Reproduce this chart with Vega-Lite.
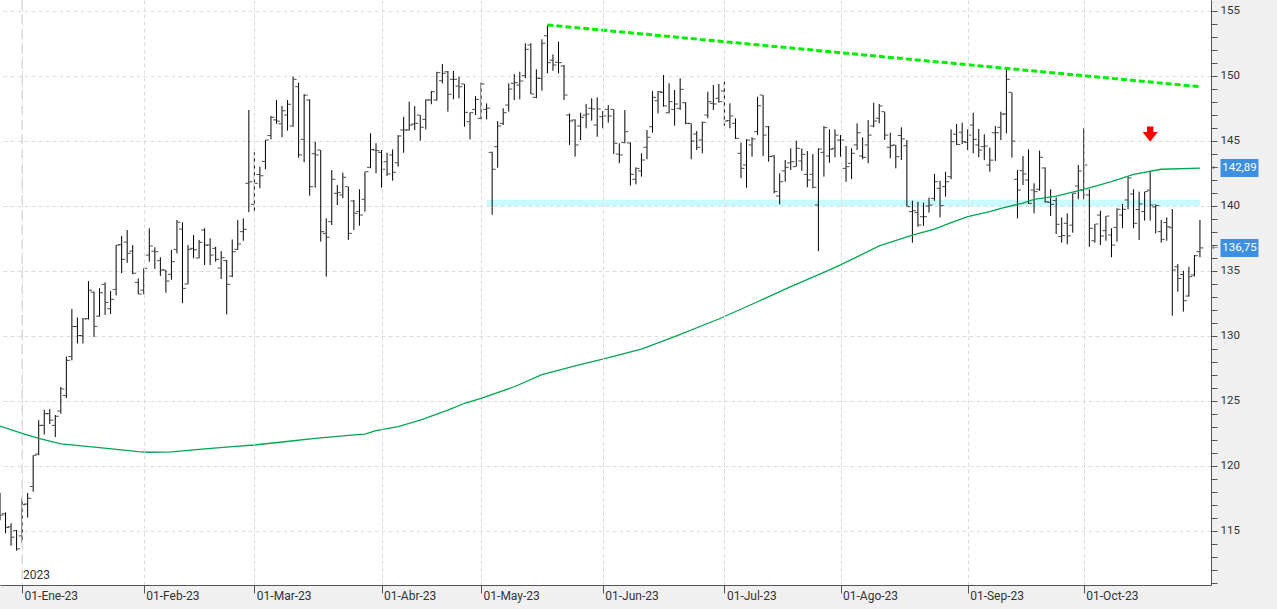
{
"$schema":"https://vega.github.io/schema/vega-lite/v6.json",
"width":1211,"height":585,
"autosize":{"type":"none"},
"padding":{"left":0,"top":0,"right":66,"bottom":24},
"background":"#f0f0f0",
"config":{"view":{"stroke":null,"fill":"white"}},
"datasets":{
"px":[
{"d":"2022-12-27","o":117.5,"h":117.9,"l":115.8,"c":116.2,"ma":123.05},
{"d":"2022-12-28","o":116.3,"h":116.4,"l":114.8,"c":115.25},
{"d":"2022-12-29","o":115.3,"h":115.57,"l":113.84,"c":114.5},
{"d":"2022-12-30","o":115.0,"h":115.05,"l":113.46,"c":113.6},
{"d":"2023-01-02","o":114.6,"h":117.5,"l":114.1,"c":117.0,"ma":122.49},
{"d":"2023-01-03","o":117.05,"h":117.9,"l":116.0,"c":117.49},
{"d":"2023-01-04","o":118.4,"h":120.8,"l":118.0,"c":120.8},
{"d":"2023-01-05","o":120.9,"h":123.5,"l":120.8,"c":123.1,"ma":122.1},
{"d":"2023-01-06","o":123.1,"h":124.3,"l":122.4,"c":124.0},
{"d":"2023-01-09","o":124.0,"h":124.35,"l":123.2,"c":123.5},
{"d":"2023-01-10","o":123.1,"h":123.9,"l":122.2,"c":123.8},
{"d":"2023-01-11","o":124.2,"h":126.05,"l":124.0,"c":125.9,"ma":121.67},
{"d":"2023-01-12","o":125.4,"h":128.4,"l":125.2,"c":128.1},
{"d":"2023-01-13","o":128.4,"h":132.05,"l":128.1,"c":130.7},
{"d":"2023-01-16","o":130.7,"h":131.4,"l":129.4,"c":130.0},
{"d":"2023-01-17","o":130.0,"h":131.35,"l":129.4,"c":131.3},
{"d":"2023-01-18","o":131.3,"h":134.2,"l":131.25,"c":133.5},
{"d":"2023-01-19","o":133.35,"h":133.4,"l":129.9,"c":130.72},
{"d":"2023-01-20","o":131.5,"h":133.65,"l":131.46,"c":133.3,"ma":121.38},
{"d":"2023-01-23","o":133.95,"h":134.1,"l":131.6,"c":132.56},
{"d":"2023-01-24","o":132.07,"h":133.43,"l":131.67,"c":132.8},
{"d":"2023-01-25","o":133.56,"h":136.97,"l":133.1,"c":136.97},
{"d":"2023-01-26","o":137.0,"h":137.67,"l":134.8,"c":135.87},
{"d":"2023-01-27","o":137.2,"h":138.13,"l":135.6,"c":136.33},
{"d":"2023-01-30","o":136.5,"h":136.97,"l":134.72,"c":134.8},
{"d":"2023-01-31","o":134.1,"h":134.4,"l":133.18,"c":133.2,"ma":121.08},
{"d":"2023-02-01","o":133.5,"h":135.18,"l":133.18,"c":135.18},
{"d":"2023-02-02","o":136.2,"h":138.26,"l":135.69,"c":136.9,"ma":121.03},
{"d":"2023-02-03","o":136.5,"h":136.8,"l":135.13,"c":136.46},
{"d":"2023-02-06","o":135.77,"h":136.03,"l":134.6,"c":135.05},
{"d":"2023-02-07","o":135.05,"h":135.05,"l":133.3,"c":134.2},
{"d":"2023-02-08","o":134.72,"h":136.6,"l":134.3,"c":135.69,"ma":121.06},
{"d":"2023-02-09","o":136.64,"h":138.9,"l":136.33,"c":138.72},
{"d":"2023-02-10","o":138.2,"h":138.72,"l":132.5,"c":133.64},
{"d":"2023-02-13","o":133.97,"h":136.97,"l":133.95,"c":136.64},
{"d":"2023-02-14","o":136.72,"h":137.74,"l":135.95,"c":136.6},
{"d":"2023-02-15","o":135.97,"h":137.36,"l":135.95,"c":137.18,"ma":121.26},
{"d":"2023-02-16","o":138.13,"h":138.26,"l":135.43,"c":136.97},
{"d":"2023-02-17","o":136.97,"h":137.49,"l":135.43,"c":136.2},
{"d":"2023-02-20","o":136.72,"h":136.84,"l":135.69,"c":135.87},
{"d":"2023-02-21","o":135.2,"h":136.5,"l":134.36,"c":136.0},
{"d":"2023-02-22","o":135.77,"h":135.82,"l":131.64,"c":133.95},
{"d":"2023-02-23","o":134.58,"h":137.4,"l":134.5,"c":136.46,"ma":121.46},
{"d":"2023-02-24","o":136.64,"h":138.9,"l":136.6,"c":137.05},
{"d":"2023-02-27","o":138.0,"h":139.03,"l":137.3,"c":138.18},
{"d":"2023-02-28","o":141.72,"h":147.36,"l":139.5,"c":141.84},
{"d":"2023-03-01","o":140.1,"h":144.1,"l":139.5,"c":141.72,"ma":121.59},
{"d":"2023-03-02","o":142.4,"h":143.0,"l":141.33,"c":142.3},
{"d":"2023-03-03","o":143.4,"h":145.05,"l":142.8,"c":145.05},
{"d":"2023-03-06","o":145.4,"h":146.9,"l":145.1,"c":146.8},
{"d":"2023-03-07","o":146.6,"h":148.13,"l":146.3,"c":146.5},
{"d":"2023-03-08","o":146.3,"h":147.66,"l":145.26,"c":147.3,"ma":121.82},
{"d":"2023-03-09","o":146.97,"h":148.13,"l":145.77,"c":147.8},
{"d":"2023-03-10","o":146.13,"h":149.92,"l":146.07,"c":149.72},
{"d":"2023-03-13","o":149.15,"h":149.46,"l":143.69,"c":143.9},
{"d":"2023-03-14","o":145.1,"h":148.59,"l":143.34,"c":148.5},
{"d":"2023-03-15","o":148.13,"h":148.18,"l":140.77,"c":141.46},
{"d":"2023-03-16","o":144.0,"h":144.92,"l":141.38,"c":143.9,"ma":122.1},
{"d":"2023-03-17","o":144.28,"h":144.28,"l":137.23,"c":138.0},
{"d":"2023-03-20","o":137.87,"h":139.03,"l":134.54,"c":137.57},
{"d":"2023-03-21","o":138.77,"h":142.74,"l":138.51,"c":142.03},
{"d":"2023-03-22","o":140.95,"h":141.59,"l":140.05,"c":141.0},
{"d":"2023-03-23","o":140.82,"h":142.54,"l":140.57,"c":142.18},
{"d":"2023-03-24","o":141.46,"h":141.46,"l":137.36,"c":137.87,"ma":122.33},
{"d":"2023-03-27","o":140.36,"h":140.44,"l":138.13,"c":139.41},
{"d":"2023-03-28","o":139.54,"h":141.26,"l":138.46,"c":139.28},
{"d":"2023-03-29","o":140.49,"h":142.61,"l":139.54,"c":142.61,"ma":122.43},
{"d":"2023-03-30","o":142.95,"h":145.57,"l":142.87,"c":144.33},
{"d":"2023-03-31","o":144.28,"h":144.8,"l":142.49,"c":144.23,"ma":122.69},
{"d":"2023-04-03","o":144.1,"h":144.28,"l":141.38,"c":142.8},
{"d":"2023-04-04","o":143.38,"h":144.07,"l":142.28,"c":142.44},
{"d":"2023-04-05","o":143.9,"h":144.33,"l":141.92,"c":142.57},
{"d":"2023-04-06","o":143.3,"h":145.43,"l":143.0,"c":145.36,"ma":123.0},
{"d":"2023-04-11","o":145.82,"h":146.84,"l":144.07,"c":145.82},
{"d":"2023-04-12","o":145.82,"h":148.0,"l":145.77,"c":146.2},
{"d":"2023-04-13","o":146.28,"h":147.66,"l":145.82,"c":146.33},
{"d":"2023-04-14","o":146.97,"h":146.97,"l":145.0,"c":146.03,"ma":123.51},
{"d":"2023-04-17","o":146.64,"h":148.18,"l":145.87,"c":148.13},
{"d":"2023-04-18","o":148.13,"h":148.82,"l":147.8,"c":148.77},
{"d":"2023-04-19","o":148.13,"h":150.3,"l":148.07,"c":150.23},
{"d":"2023-04-20","o":149.61,"h":150.9,"l":149.41,"c":150.18},
{"d":"2023-04-21","o":150.3,"h":150.36,"l":147.23,"c":148.57,"ma":124.28},
{"d":"2023-04-24","o":149.72,"h":150.36,"l":148.18,"c":149.72},
{"d":"2023-04-25","o":149.2,"h":149.92,"l":148.26,"c":149.15},
{"d":"2023-04-26","o":149.36,"h":149.36,"l":146.07,"c":147.18,"ma":124.8},
{"d":"2023-04-27","o":146.46,"h":147.18,"l":145.1,"c":147.15},
{"d":"2023-04-28","o":147.41,"h":148.43,"l":146.97,"c":148.18},
{"d":"2023-05-02","o":146.72,"h":149.46,"l":146.64,"c":149.36,"ma":125.18},
{"d":"2023-05-03","o":147.41,"h":147.87,"l":146.64,"c":147.5},
{"d":"2023-05-04","o":144.1,"h":144.15,"l":139.3,"c":142.8},
{"d":"2023-05-05","o":144.54,"h":146.51,"l":142.92,"c":146.13},
{"d":"2023-05-08","o":146.33,"h":147.49,"l":146.2,"c":147.15},
{"d":"2023-05-09","o":147.74,"h":149.41,"l":147.23,"c":148.97},
{"d":"2023-05-10","o":149.41,"h":150.13,"l":148.13,"c":149.46,"ma":126.07},
{"d":"2023-05-11","o":149.28,"h":150.3,"l":148.18,"c":149.59},
{"d":"2023-05-12","o":150.0,"h":152.49,"l":149.8,"c":152.03},
{"d":"2023-05-15","o":152.36,"h":152.49,"l":148.57,"c":148.59},
{"d":"2023-05-16","o":148.33,"h":150.49,"l":148.26,"c":149.8},
{"d":"2023-05-17","o":149.8,"h":152.8,"l":148.84,"c":152.49,"ma":127.0},
{"d":"2023-05-18","o":153.07,"h":153.9,"l":150.18,"c":151.0},
{"d":"2023-05-19","o":151.2,"h":151.64,"l":150.38,"c":150.82},
{"d":"2023-05-22","o":151.03,"h":152.61,"l":150.18,"c":151.0},
{"d":"2023-05-23","o":150.74,"h":150.82,"l":148.13,"c":148.51},
{"d":"2023-05-24","o":146.97,"h":147.1,"l":144.67,"c":146.51},
{"d":"2023-05-25","o":146.59,"h":146.64,"l":143.77,"c":144.67,"ma":127.67},
{"d":"2023-05-26","o":146.13,"h":147.15,"l":145.05,"c":146.8},
{"d":"2023-05-29","o":146.97,"h":147.82,"l":145.95,"c":147.05},
{"d":"2023-05-30","o":147.49,"h":148.26,"l":146.54,"c":147.44},
{"d":"2023-05-31","o":146.2,"h":148.33,"l":145.3,"c":147.44},
{"d":"2023-06-01","o":146.84,"h":147.28,"l":145.95,"c":146.9,"ma":128.2},
{"d":"2023-06-02","o":147.41,"h":147.74,"l":146.38,"c":146.9},
{"d":"2023-06-05","o":147.41,"h":147.41,"l":143.97,"c":144.8},
{"d":"2023-06-06","o":143.97,"h":144.8,"l":143.26,"c":143.9},
{"d":"2023-06-07","o":144.85,"h":147.36,"l":144.8,"c":145.69},
{"d":"2023-06-08","o":144.82,"h":144.87,"l":141.54,"c":142.41},
{"d":"2023-06-09","o":142.03,"h":142.95,"l":141.64,"c":142.87},
{"d":"2023-06-12","o":142.67,"h":144.03,"l":142.23,"c":143.51,"ma":128.97},
{"d":"2023-06-13","o":144.49,"h":145.82,"l":143.57,"c":145.26},
{"d":"2023-06-14","o":146.07,"h":148.82,"l":145.61,"c":148.33},
{"d":"2023-06-15","o":148.07,"h":148.82,"l":147.1,"c":148.77},
{"d":"2023-06-16","o":148.72,"h":150.05,"l":147.61,"c":147.67},
{"d":"2023-06-19","o":147.15,"h":149.41,"l":147.1,"c":148.0},
{"d":"2023-06-20","o":147.41,"h":148.9,"l":146.15,"c":147.82,"ma":129.92},
{"d":"2023-06-21","o":147.49,"h":149.8,"l":147.36,"c":148.95},
{"d":"2023-06-22","o":147.92,"h":147.95,"l":146.26,"c":146.33},
{"d":"2023-06-23","o":146.33,"h":146.33,"l":143.57,"c":144.97},
{"d":"2023-06-26","o":145.51,"h":145.74,"l":144.28,"c":144.49},
{"d":"2023-06-27","o":145.05,"h":146.46,"l":144.03,"c":146.41},
{"d":"2023-06-28","o":146.97,"h":148.77,"l":146.72,"c":148.0},
{"d":"2023-06-29","o":147.87,"h":149.28,"l":147.36,"c":147.82},
{"d":"2023-06-30","o":148.26,"h":149.36,"l":147.92,"c":148.0,"ma":131.28},
{"d":"2023-07-03","o":148.82,"h":149.54,"l":146.15,"c":146.51},
{"d":"2023-07-04","o":146.54,"h":147.87,"l":145.95,"c":146.9},
{"d":"2023-07-05","o":146.33,"h":146.72,"l":145.13,"c":145.18},
{"d":"2023-07-06","o":144.03,"h":144.85,"l":142.11,"c":142.87},
{"d":"2023-07-07","o":143.13,"h":145.1,"l":141.38,"c":145.05},
{"d":"2023-07-10","o":144.67,"h":145.26,"l":143.77,"c":145.13},
{"d":"2023-07-11","o":145.69,"h":148.38,"l":145.43,"c":147.69,"ma":132.61},
{"d":"2023-07-12","o":148.51,"h":148.51,"l":143.82,"c":145.43},
{"d":"2023-07-13","o":146.07,"h":146.13,"l":143.38,"c":143.77},
{"d":"2023-07-14","o":143.82,"h":143.9,"l":140.95,"c":141.08},
{"d":"2023-07-17","o":140.74,"h":142.49,"l":140.1,"c":141.84},
{"d":"2023-07-18","o":142.67,"h":143.51,"l":141.84,"c":142.95},
{"d":"2023-07-19","o":143.3,"h":144.41,"l":142.74,"c":143.38,"ma":133.77},
{"d":"2023-07-20","o":143.0,"h":145.0,"l":143.0,"c":144.41},
{"d":"2023-07-21","o":143.44,"h":144.41,"l":142.69,"c":143.95},
{"d":"2023-07-24","o":142.41,"h":144.2,"l":141.41,"c":141.97},
{"d":"2023-07-25","o":142.41,"h":143.97,"l":141.33,"c":141.41},
{"d":"2023-07-26","o":140.05,"h":144.41,"l":136.5,"c":144.36},
{"d":"2023-07-27","o":144.1,"h":146.13,"l":142.23,"c":146.0,"ma":134.87},
{"d":"2023-07-28","o":143.82,"h":145.87,"l":143.3,"c":144.33},
{"d":"2023-07-31","o":144.41,"h":145.87,"l":143.72,"c":145.43},
{"d":"2023-08-01","o":145.05,"h":145.43,"l":143.77,"c":145.05,"ma":135.44},
{"d":"2023-08-02","o":142.87,"h":144.59,"l":141.84,"c":143.0},
{"d":"2023-08-03","o":143.26,"h":144.41,"l":142.05,"c":144.03},
{"d":"2023-08-04","o":144.67,"h":146.33,"l":144.28,"c":145.61},
{"d":"2023-08-07","o":143.82,"h":145.26,"l":143.57,"c":143.72},
{"d":"2023-08-08","o":144.67,"h":146.59,"l":143.26,"c":145.43},
{"d":"2023-08-09","o":146.13,"h":147.92,"l":146.03,"c":146.51},
{"d":"2023-08-10","o":146.72,"h":147.82,"l":146.33,"c":147.67,"ma":136.9},
{"d":"2023-08-11","o":147.23,"h":147.23,"l":145.05,"c":145.43},
{"d":"2023-08-14","o":144.49,"h":145.61,"l":143.64,"c":144.61},
{"d":"2023-08-15","o":144.67,"h":144.67,"l":142.87,"c":143.77},
{"d":"2023-08-16","o":145.4,"h":146.03,"l":143.51,"c":145.13},
{"d":"2023-08-17","o":144.61,"h":145.05,"l":139.92,"c":139.92},
{"d":"2023-08-18","o":139.54,"h":140.38,"l":137.15,"c":139.61,"ma":137.74},
{"d":"2023-08-21","o":139.46,"h":140.3,"l":138.38,"c":138.51},
{"d":"2023-08-22","o":139.15,"h":140.23,"l":138.44,"c":139.15},
{"d":"2023-08-23","o":139.97,"h":140.62,"l":139.46,"c":140.05},
{"d":"2023-08-24","o":140.56,"h":142.44,"l":140.38,"c":141.84,"ma":138.2},
{"d":"2023-08-25","o":141.33,"h":141.92,"l":139.1,"c":140.0},
{"d":"2023-08-28","o":141.46,"h":142.61,"l":140.69,"c":141.84},
{"d":"2023-08-29","o":142.23,"h":145.87,"l":142.03,"c":144.92,"ma":138.7},
{"d":"2023-08-30","o":145.5,"h":146.28,"l":144.67,"c":144.7},
{"d":"2023-08-31","o":145.65,"h":146.38,"l":144.74,"c":144.92},
{"d":"2023-09-01","o":144.87,"h":145.87,"l":144.28,"c":145.43,"ma":139.15},
{"d":"2023-09-04","o":146.2,"h":147.15,"l":144.03,"c":145.1},
{"d":"2023-09-05","o":144.67,"h":145.9,"l":143.72,"c":144.28},
{"d":"2023-09-06","o":144.54,"h":145.49,"l":143.51,"c":144.59},
{"d":"2023-09-07","o":143.13,"h":144.46,"l":142.61,"c":143.5,"ma":139.54},
{"d":"2023-09-08","o":145.61,"h":146.13,"l":143.44,"c":145.61},
{"d":"2023-09-11","o":146.03,"h":147.23,"l":145.05,"c":147.05,"ma":139.8},
{"d":"2023-09-12","o":147.05,"h":150.49,"l":145.57,"c":149.72},
{"d":"2023-09-13","o":148.72,"h":148.72,"l":143.69,"c":144.97},
{"d":"2023-09-14","o":142.03,"h":142.74,"l":139.03,"c":141.2},
{"d":"2023-09-15","o":142.69,"h":143.82,"l":141.59,"c":142.44,"ma":140.2},
{"d":"2023-09-18","o":141.97,"h":144.33,"l":140.13,"c":140.18},
{"d":"2023-09-19","o":141.2,"h":141.72,"l":139.41,"c":141.08,"ma":140.49},
{"d":"2023-09-20","o":141.26,"h":144.23,"l":141.15,"c":143.72},
{"d":"2023-09-21","o":142.9,"h":142.95,"l":140.23,"c":140.3},
{"d":"2023-09-22","o":140.26,"h":141.26,"l":139.2,"c":140.1},
{"d":"2023-09-25","o":140.4,"h":140.64,"l":137.82,"c":138.57,"ma":140.74},
{"d":"2023-09-26","o":137.62,"h":139.1,"l":137.15,"c":137.7},
{"d":"2023-09-27","o":138.64,"h":139.41,"l":137.03,"c":137.67},
{"d":"2023-09-28","o":138.5,"h":140.95,"l":137.92,"c":140.95},
{"d":"2023-09-29","o":141.51,"h":143.13,"l":140.49,"c":142.67},
{"d":"2023-10-02","o":141.2,"h":145.95,"l":140.49,"c":143.13,"ma":141.26},
{"d":"2023-10-03","o":140.82,"h":141.26,"l":136.84,"c":138.26},
{"d":"2023-10-04","o":137.3,"h":138.59,"l":137.15,"c":138.59},
{"d":"2023-10-05","o":139.28,"h":139.61,"l":136.97,"c":137.67},
{"d":"2023-10-06","o":138.08,"h":139.2,"l":137.3,"c":139.2},
{"d":"2023-10-09","o":137.74,"h":138.26,"l":136.03,"c":136.97,"ma":141.84},
{"d":"2023-10-10","o":138.33,"h":139.8,"l":137.23,"c":139.72},
{"d":"2023-10-11","o":139.28,"h":140.13,"l":138.26,"c":139.72},
{"d":"2023-10-12","o":140.44,"h":142.23,"l":139.72,"c":142.13},
{"d":"2023-10-13","o":140.9,"h":141.26,"l":138.26,"c":138.64,"ma":142.41},
{"d":"2023-10-16","o":139.7,"h":141.08,"l":137.36,"c":140.13},
{"d":"2023-10-17","o":139.54,"h":141.08,"l":138.85,"c":141.08},
{"d":"2023-10-18","o":141.2,"h":142.69,"l":138.85,"c":140.05},
{"d":"2023-10-19","o":139.9,"h":140.1,"l":137.87,"c":140.0},
{"d":"2023-10-20","o":138.0,"h":138.9,"l":137.15,"c":137.41,"ma":142.8},
{"d":"2023-10-23","o":138.7,"h":139.1,"l":137.3,"c":138.38},
{"d":"2023-10-24","o":138.3,"h":139.74,"l":131.54,"c":135.05},
{"d":"2023-10-25","o":135.3,"h":135.51,"l":133.38,"c":134.4},
{"d":"2023-10-26","o":134.7,"h":135.0,"l":131.85,"c":132.69},
{"d":"2023-10-27","o":133.05,"h":135.3,"l":133.0,"c":134.54},
{"d":"2023-10-30","o":134.67,"h":136.2,"l":134.54,"c":136.15},
{"d":"2023-10-31","o":136.46,"h":138.9,"l":136.03,"c":136.75,"ma":142.89}
],
"trend":[{"d":"2023-05-18","v":153.9},{"d":"2023-10-31","v":149.15}],
"band":[{"d1":"2023-05-03","d2":"2023-10-31","lo":139.98,"hi":140.45}],
"yr":[{"d":"2023-01-02","t":"2023"}],
"arrow":[{"d":"2023-10-18","v":145.5}],
"tags":[{"v":142.89,"t":"142,89"},{"v":136.75,"t":"136,75"}]
},
"layer":[
{"data":{"name":"band"},"mark":{"type":"rect","color":"#c9fafc"},
 "encoding":{"x":{"field":"d1","type":"ordinal"},"x2":{"field":"d2"},"y":{"field":"lo","type":"quantitative"},"y2":{"field":"hi"}}},
{"data":{"name":"yr"},"mark":{"type":"rule","color":"#c4c4c4","strokeDash":[9,6],"strokeWidth":1},
 "encoding":{"x":{"field":"d","type":"ordinal"}}},
{"data":{"name":"yr"},"mark":{"type":"text","y":"height","dy":-3,"dx":1,"align":"left","baseline":"bottom","font":"Roboto","fontSize":12,"color":"#333"},
 "encoding":{"x":{"field":"d","type":"ordinal"},"text":{"field":"t"}}},
{"data":{"name":"px"},"mark":{"type":"rule","color":"#000","strokeWidth":1},
 "encoding":{
  "x":{"field":"d","type":"ordinal","title":null,
   "scale":{"type":"point","padding":1.21,"align":0},
   "axis":{"values":["2023-01-02","2023-02-01","2023-03-01","2023-04-03","2023-05-02","2023-06-01","2023-07-03","2023-08-01","2023-09-01","2023-10-02"],
    "labelExpr":"'01-' + ['Ene','Feb','Mar','Abr','May','Jun','Jul','Ago','Sep','Oct','Nov','Dic'][toNumber(substring(datum.value,5,7))-1] + '-23'",
    "grid":true,"gridColor":"#dcdcdc","gridDash":[4,3],"tickSize":8,"tickColor":"#555","domainColor":"#555",
    "labelAlign":"left","labelBaseline":"top","labelPadding":-3,"labelOffset":2,"labelAngle":0,"labelOverlap":false,
    "labelFont":"Roboto","labelFontSize":12,"labelColor":"#333"}},
  "y":{"field":"l","type":"quantitative","title":null,
   "scale":{"domain":[110.82,155.82],"nice":false,"zero":false},
   "axis":{"orient":"right","tickCount":100,"format":"d","values":[111,112,113,114,115,116,117,118,119,120,121,122,123,124,125,126,127,128,129,130,131,132,133,134,135,136,137,138,139,140,141,142,143,144,145,146,147,148,149,150,151,152,153,154,155],
    "labelExpr":"datum.value % 5 === 0 ? datum.label : ''","labelOverlap":false,"labelBound":false,
    "grid":true,"gridDash":[4,3],
    "gridColor":{"condition":{"test":"datum.value % 5 === 0","value":"#dcdcdc"},"value":"rgba(0,0,0,0)"},
    "tickSize":6,"tickColor":"#555","domainColor":"#555","labelPadding":3,
    "labelFont":"Roboto","labelFontSize":11.5,"labelColor":"#333"}},
  "y2":{"field":"h"}}},
{"data":{"name":"px"},"mark":{"type":"tick","orient":"horizontal","color":"#000","size":3,"thickness":1,"xOffset":-2},
 "encoding":{"x":{"field":"d","type":"ordinal"},"y":{"field":"o","type":"quantitative"}}},
{"data":{"name":"px"},"mark":{"type":"tick","orient":"horizontal","color":"#000","size":3,"thickness":1,"xOffset":2},
 "encoding":{"x":{"field":"d","type":"ordinal"},"y":{"field":"c","type":"quantitative"}}},
{"data":{"name":"px"},"transform":[{"filter":"isValid(datum.ma)"}],
 "mark":{"type":"line","color":"#00a650","strokeWidth":1.3},
 "encoding":{"x":{"field":"d","type":"ordinal"},"y":{"field":"ma","type":"quantitative"}}},
{"data":{"name":"trend"},"mark":{"type":"line","color":"#00ee00","strokeWidth":3,"strokeDash":[6,3]},
 "encoding":{"x":{"field":"d","type":"ordinal"},"y":{"field":"v","type":"quantitative"}}},
{"data":{"name":"arrow"},"mark":{"type":"point","filled":true,"color":"#ff0000","opacity":1,"size":230,
  "shape":"M-0.42,-1L0.42,-1L0.42,-0.28L1,-0.28L0,1L-1,-0.28L-0.42,-0.28Z"},
 "encoding":{"x":{"field":"d","type":"ordinal"},"y":{"field":"v","type":"quantitative"}}},
{"data":{"name":"tags"},"mark":{"type":"rect","color":"#3f8fe0","x":{"expr":"width + 9.5"},"x2":{"expr":"width + 47.5"},"yOffset":-9,"y2Offset":9},
 "encoding":{"y":{"field":"v","type":"quantitative"},"y2":{"field":"v"}}},
{"data":{"name":"tags"},"mark":{"type":"text","x":{"expr":"width + 28.5"},"align":"center","baseline":"middle","font":"Roboto","fontSize":11.5,"color":"white"},
 "encoding":{"y":{"field":"v","type":"quantitative"},"text":{"field":"t"}}},
{"data":{"name":"tags"},"mark":{"type":"text","x":{"expr":"width + 1"},"align":"left","baseline":"middle","font":"DejaVu Sans","fontSize":8,"color":"#666","text":"←"},
 "encoding":{"y":{"field":"v","type":"quantitative"}}}
]
}
